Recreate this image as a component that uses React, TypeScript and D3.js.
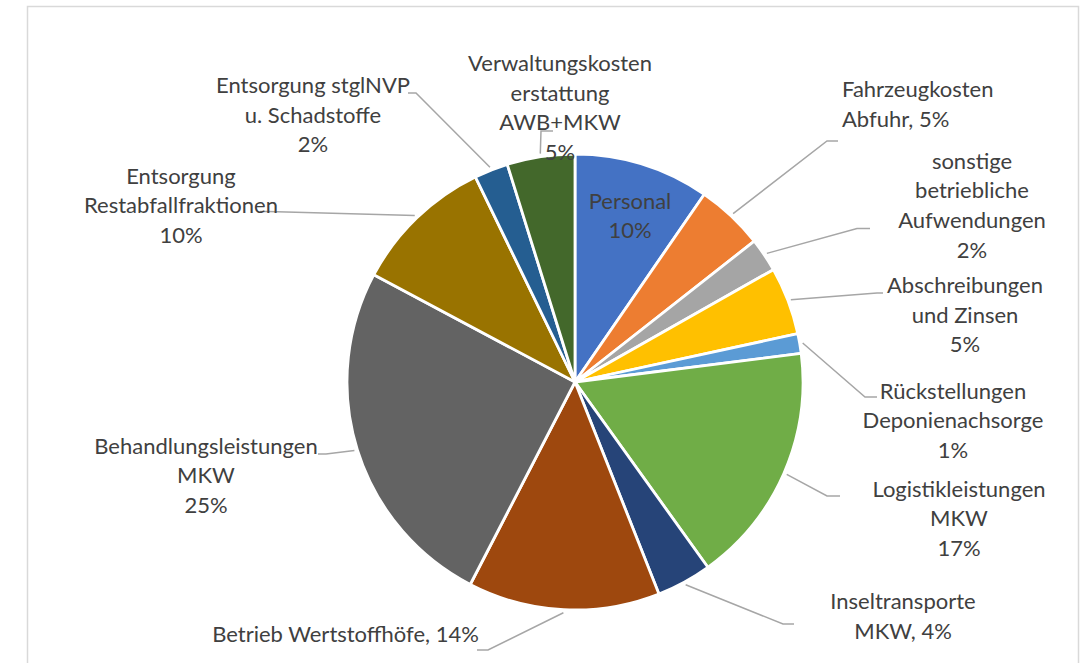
import React from "react";
import * as d3 from "d3";

// ---- data ----
const categories = [
  "Personal",
  "Fahrzeugkosten Abfuhr",
  "sonstige betriebliche Aufwendungen",
  "Abschreibungen und Zinsen",
  "Rückstellungen Deponienachsorge",
  "Logistikleistungen MKW",
  "Inseltransporte MKW",
  "Betrieb Wertstoffhöfe",
  "Behandlungsleistungen MKW",
  "Entsorgung Restabfallfraktionen",
  "Entsorgung stglNVP u. Schadstoffe",
  "Verwaltungskosten erstattung AWB+MKW",
];
const values = [9.6, 4.8, 2.4, 4.8, 1.4, 17.1, 3.9, 13.6, 25.2, 10.0, 2.4, 4.8];
// label text lines; "{p}" is replaced by the computed percentage
const labelLines = [
  ["Personal", "{p}"],
  ["Fahrzeugkosten", "Abfuhr, {p}"],
  ["sonstige", "betriebliche", "Aufwendungen", "{p}"],
  ["Abschreibungen", "und Zinsen", "{p}"],
  ["Rückstellungen", "Deponienachsorge", "{p}"],
  ["Logistikleistungen", "MKW", "{p}"],
  ["Inseltransporte", "MKW, {p}"],
  ["Betrieb Wertstoffhöfe, {p}"],
  ["Behandlungsleistungen", "MKW", "{p}"],
  ["Entsorgung", "Restabfallfraktionen", "{p}"],
  ["Entsorgung stglNVP", "u. Schadstoffe", "{p}"],
  ["Verwaltungskosten", "erstattung", "AWB+MKW", "{p}"],
];
const colors = [
  "#4472C4", "#ED7D31", "#A5A5A5", "#FFC000", "#5B9BD5", "#70AD47",
  "#264478", "#9E480E", "#636363", "#997300", "#255E91", "#43682B",
];

// ---- layout (label placement, leader elbows) ----
const labelPos: { x: number; y: number; anchor: string }[] = [
  { x: 630, y: 208.5, anchor: "middle" },
  { x: 842, y: 97, anchor: "start" },
  { x: 972, y: 168.5, anchor: "middle" },
  { x: 965, y: 293, anchor: "middle" },
  { x: 953, y: 398.5, anchor: "middle" },
  { x: 959, y: 496.5, anchor: "middle" },
  { x: 903, y: 609, anchor: "middle" },
  { x: 345.5, y: 642, anchor: "middle" },
  { x: 206, y: 453.5, anchor: "middle" },
  { x: 181, y: 183.5, anchor: "middle" },
  { x: 313, y: 93, anchor: "middle" },
  { x: 560, y: 71, anchor: "middle" },
];
const leaders: ([number, number][] | null)[] = [
  null,
  [[827, 141], [838, 141]],
  [[857, 228.5], [870, 228.5]],
  [[877, 293], [883, 293]],
  [[865, 397], [877, 397]],
  [[827, 496], [840, 496]],
  [[783, 624], [794, 624]],
  [[488, 650], [477, 650]],
  [[326, 454], [318, 454]],
  [[268, 211.5], [260, 211.5]],
  [[416, 93], [408, 93]],
  [[541, 131], [553, 131]],
];

const W = 1084;
const H = 663;
const cx = 575;
const cy = 382;
const R = 228;
const LINE_H = 29.7;

export default function App() {
  const total = d3.sum(values);
  const pie = d3.pie<number>().sort(null).value((d) => d)(values);
  const arc = d3.arc<d3.PieArcDatum<number>>().innerRadius(0).outerRadius(R);
  const edge = (a: number, r: number): [number, number] => [
    cx + r * Math.sin(a),
    cy - r * Math.cos(a),
  ];
  const line = d3.line();

  return (
    <svg
      width={W}
      height={H}
      style={{ position: "absolute", left: 0, top: 0, display: "block", background: "#fff" }}
      fontFamily="Lato, 'Open Sans', sans-serif"
    >
      <rect x={27.5} y={6.5} width={1051} height={H + 20} fill="#fff" stroke="#D9D9D9" strokeWidth={1.5} />
      <g transform={`translate(${cx},${cy})`}>
        {pie.map((p, i) => (
          <path key={i} d={arc(p) || ""} fill={colors[i]} stroke="#fff" strokeWidth={2.8} strokeLinejoin="round" />
        ))}
      </g>
      {pie.map((p, i) => {
        const pts = leaders[i];
        if (!pts) return null;
        const mid = (p.startAngle + p.endAngle) / 2;
        const start = edge(mid, R + 3);
        return (
          <path
            key={"l" + i}
            d={line([start, ...pts]) || ""}
            fill="none"
            stroke="#A6A6A6"
            strokeWidth={1.5}
          />
        );
      })}
      {pie.map((p, i) => {
        const pct = Math.round((values[i] / total) * 100) + "%";
        const pos = labelPos[i];
        return (
          <text
            key={"t" + i}
            x={pos.x}
            y={pos.y}
            textAnchor={pos.anchor as any}
            fontSize={22}
            fill="#404040"
          >
            {labelLines[i].map((ln, j) => (
              <tspan key={j} x={pos.x} y={pos.y + j * LINE_H}>
                {ln.replace("{p}", pct)}
              </tspan>
            ))}
          </text>
        );
      })}
    </svg>
  );
}
